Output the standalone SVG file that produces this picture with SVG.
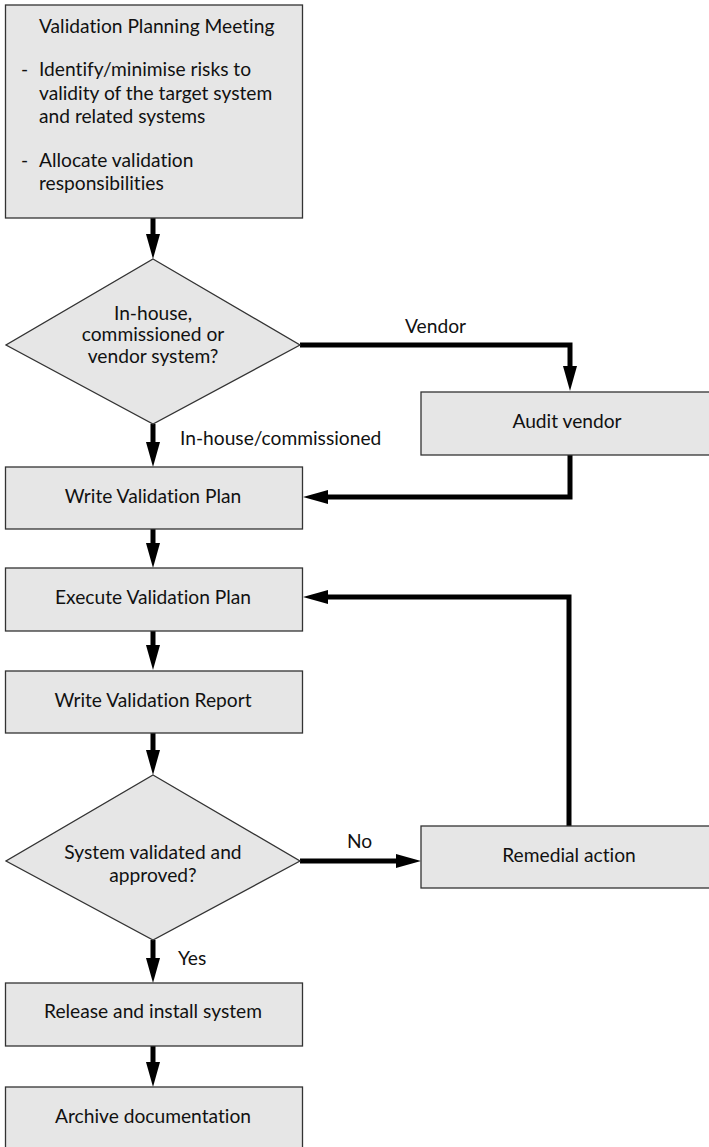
<svg xmlns="http://www.w3.org/2000/svg" width="709" height="1147" viewBox="0 0 709 1147">
  <style>
    .box { fill: #e6e6e6; stroke: #333; stroke-width: 1.3; }
    .lbl { font-family: Lato, "Open Sans", sans-serif; font-size: 19.2px; fill: #111; font-variant-ligatures: none; }
    .mid { text-anchor: middle; }
    .wire { fill: none; stroke: #000; stroke-width: 5; stroke-linejoin: miter; }
  </style>
  <defs>
    <marker id="head" markerUnits="userSpaceOnUse" markerWidth="25" markerHeight="14" refX="0" refY="7" orient="auto" overflow="visible">
      <path d="M0,0 L25,7 L0,14 Z" fill="#000"/>
    </marker>
  </defs>
  <rect width="709" height="1147" fill="#fff"/>

  <g id="connectors">
    <path class="wire" marker-end="url(#head)" d="M153,218 V234"/>
    <path class="wire" marker-end="url(#head)" d="M300,345 H570 V366"/>
    <path class="wire" marker-end="url(#head)" d="M153,424 V442"/>
    <path class="wire" marker-end="url(#head)" d="M570,455 V497 H328"/>
    <path class="wire" marker-end="url(#head)" d="M153,529 V543"/>
    <path class="wire" marker-end="url(#head)" d="M153,631 V645"/>
    <path class="wire" marker-end="url(#head)" d="M153,733 V750"/>
    <path class="wire" marker-end="url(#head)" d="M300,861 H396"/>
    <path class="wire" marker-end="url(#head)" d="M569,826 V597 H328"/>
    <path class="wire" marker-end="url(#head)" d="M153,940 V958"/>
    <path class="wire" marker-end="url(#head)" d="M153,1046 V1062"/>
    <text class="lbl" x="405" y="333">Vendor</text>
    <text class="lbl" x="180" y="445">In-house/commissioned</text>
    <text class="lbl" x="347" y="848">No</text>
    <text class="lbl" x="178" y="965">Yes</text>
  </g>

  <g id="planning-meeting">
    <rect class="box" x="5.5" y="5" width="297" height="213"/>
    <text class="lbl" x="39" y="33">Validation Planning Meeting</text>
    <text class="lbl" x="21" y="76">-</text>
    <text class="lbl" x="39" y="76">Identify/minimise risks to</text>
    <text class="lbl" x="39" y="100">validity of the target system</text>
    <text class="lbl" x="39" y="123">and related systems</text>
    <text class="lbl" x="21" y="167">-</text>
    <text class="lbl" x="39" y="167">Allocate validation</text>
    <text class="lbl" x="39" y="190">responsibilities</text>
  </g>

  <g id="system-type">
    <polygon class="box" points="153,259 300,345 153,424 6,345"/>
    <text class="lbl mid" x="153" y="320">In-house,</text>
    <text class="lbl mid" x="153" y="341">commissioned or</text>
    <text class="lbl mid" x="153" y="363">vendor system?</text>
  </g>

  <g id="audit-vendor">
    <rect class="box" x="421" y="392" width="290" height="63"/>
    <text class="lbl mid" x="567" y="428">Audit vendor</text>
  </g>

  <g id="write-plan">
    <rect class="box" x="5.5" y="467" width="297" height="62"/>
    <text class="lbl mid" x="153" y="503">Write Validation Plan</text>
  </g>

  <g id="execute-plan">
    <rect class="box" x="5.5" y="568" width="297" height="63"/>
    <text class="lbl mid" x="153" y="604">Execute Validation Plan</text>
  </g>

  <g id="write-report">
    <rect class="box" x="5.5" y="671" width="297" height="62"/>
    <text class="lbl mid" x="153" y="707">Write Validation Report</text>
  </g>

  <g id="validated">
    <polygon class="box" points="153,775 300,861 153,940 6,861"/>
    <text class="lbl mid" x="153" y="859">System validated and</text>
    <text class="lbl mid" x="153" y="882">approved?</text>
  </g>

  <g id="remedial">
    <rect class="box" x="421" y="826" width="290" height="62"/>
    <text class="lbl mid" x="569" y="862">Remedial action</text>
  </g>

  <g id="release">
    <rect class="box" x="5.5" y="983" width="297" height="63"/>
    <text class="lbl mid" x="153" y="1018">Release and install system</text>
  </g>

  <g id="archive">
    <rect class="box" x="5.5" y="1087" width="297" height="70"/>
    <text class="lbl mid" x="153" y="1123">Archive documentation</text>
  </g>
</svg>
